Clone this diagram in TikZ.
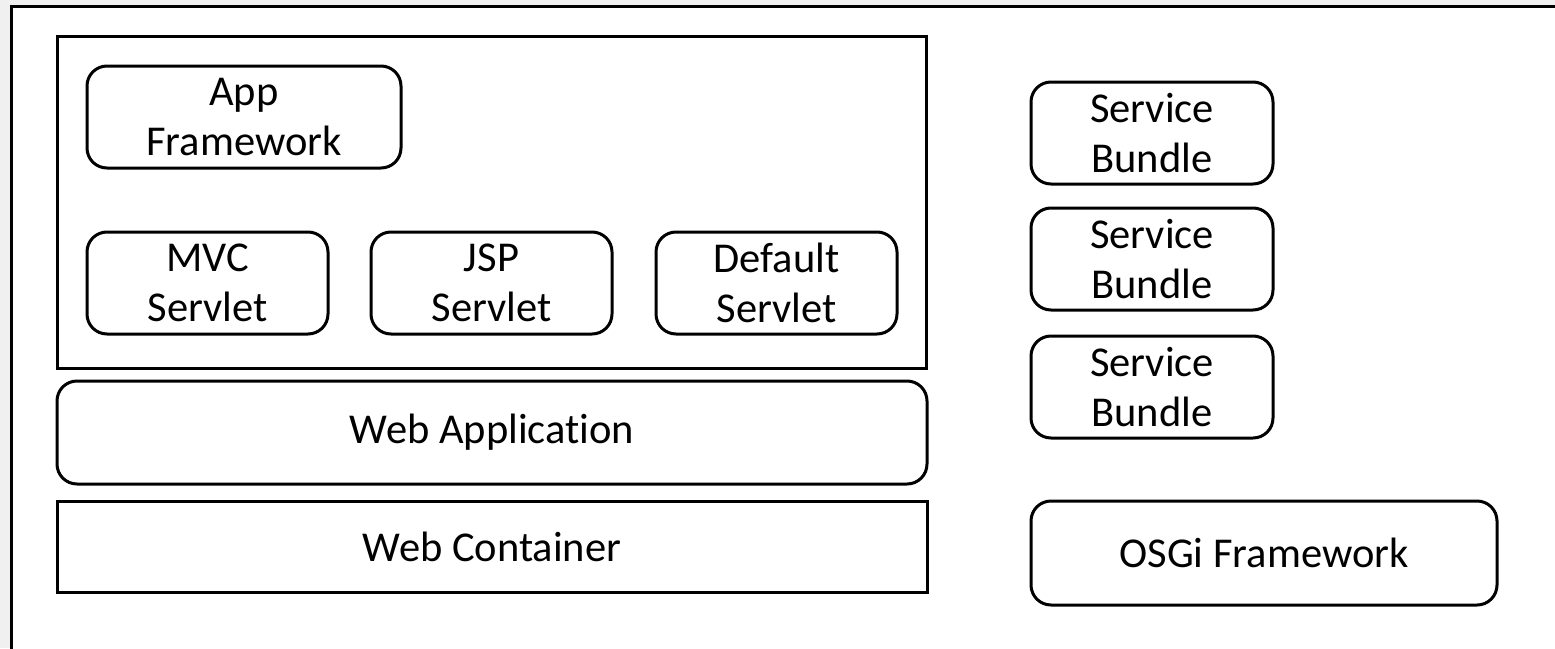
\documentclass[tikz,border=0pt]{standalone}
\usepackage{fontspec}
\setmainfont{Carlito}[Ligatures=NoCommon]
\begin{document}
\begin{tikzpicture}[x=1pt,y=-1pt,
  every node/.style={inner sep=0pt, align=center, font=\fontsize{42.5}{50}\selectfont},
  frame/.style={draw, line width=3pt},
  rbox/.style={frame, rectangle, rounded corners=20pt},
  sbox/.style={frame, rectangle}]
  % canvas and page frame
  \useasboundingbox (0,0) rectangle (1555,648);
  \fill[gray!12] (0,0) rectangle (1555,648);
  \coordinate (frameNW) at (11.5,6.5);
  \coordinate (frameSE) at (1600,700);
  \begin{scope}
    \clip (0,0) rectangle (1555,648);
    \filldraw[fill=white, line width=3pt] (frameNW) rectangle (frameSE);
  \end{scope}

  % web side
  \node[sbox, minimum width=869pt, minimum height=332pt] (container) at (491.5,202) {};
  \node[rbox, minimum width=314pt, minimum height=102pt] (appfw) at (244,117) {App\\Framework};
  \node[rbox, minimum width=241pt, minimum height=102pt] (mvc) at (207.5,283) {MVC\\Servlet};
  \node[rbox, minimum width=241pt, minimum height=102pt] (jsp) at (491.5,283) {JSP\\Servlet};
  \node[rbox, minimum width=241pt, minimum height=102pt] (default) at (776.5,283) {Default\\Servlet};
  \node[rbox, minimum width=870pt, minimum height=103pt] (webapp) at (492,432.5) {Web Application};
  \node[sbox, minimum width=870pt, minimum height=91pt] (webcont) at (492,546.5) {Web Container};

  % OSGi side
  \node[rbox, minimum width=242pt, minimum height=102pt] (sb1) at (1152,133) {Service\\Bundle};
  \node[rbox, minimum width=242pt, minimum height=102pt] (sb2) at (1152,259) {Service\\Bundle};
  \node[rbox, minimum width=242pt, minimum height=102pt] (sb3) at (1152,387) {Service\\Bundle};
  \node[rbox, minimum width=466pt, minimum height=104pt] (osgi) at (1264,553) {OSGi Framework};
\end{tikzpicture}
\end{document}
